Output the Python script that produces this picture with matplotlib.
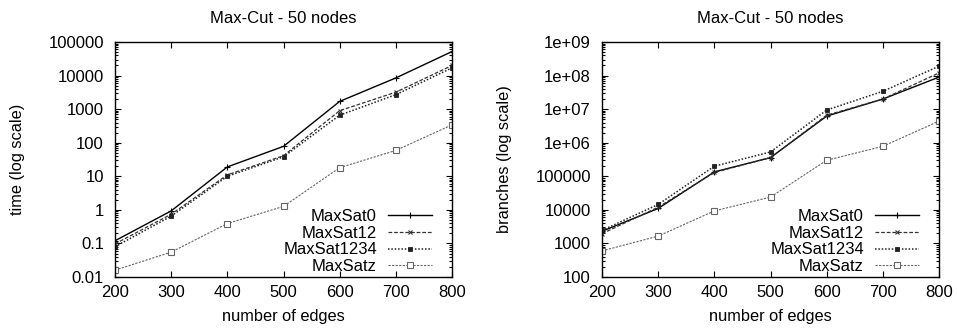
import numpy as np
import matplotlib
matplotlib.use('Agg')
import matplotlib.pyplot as plt
from matplotlib.ticker import FixedLocator, LogLocator, NullFormatter

plt.rcParams['font.family'] = ['Liberation Sans', 'DejaVu Sans']

edges = [200, 300, 400, 500, 600, 700, 800]
series_names = ['MaxSat0', 'MaxSat12', 'MaxSat1234', 'MaxSatz']

# time (log)
time_maxsat0 = [0.12, 0.93, 19, 78, 1700, 8500, 52000]
time_maxsat12 = [0.097, 0.74, 11, 41, 900, 3200, 20000]
time_maxsat1234 = [0.08, 0.65, 10, 38, 660, 2700, 17000]
time_maxsatz = [0.016, 0.055, 0.39, 1.27, 18, 59, 340]

# branches (log)
br_maxsat0 = [2300, 11000, 135000, 360000, 6.2e6, 2.0e7, 9.0e7]
br_maxsat12 = [1950, 12000, 130000, 360000, 6.6e6, 2.0e7, 1.2e8]
br_maxsat1234 = [2450, 14500, 200000, 530000, 9.4e6, 3.4e7, 1.9e8]
br_maxsatz = [600, 1650, 9300, 24000, 300000, 780000, 4.4e6]

time_ticks = [0.01, 0.1, 1, 10, 100, 1000, 10000, 100000]
time_labels = ['0.01', '0.1', '1', '10', '100', '1000', '10000', '100000']
br_ticks = [1e2, 1e3, 1e4, 1e5, 1e6, 1e7, 1e8, 1e9]
br_labels = ['100', '1000', '10000', '100000', '1e+06', '1e+07', '1e+08', '1e+09']

styles = [
    dict(color='black', ls='-', marker='+', ms=5, mew=0.8, lw=1.0),
    dict(color='#333333', ls=(0, (3, 1.5)), marker='x', ms=3.5, mew=0.8, lw=0.9),
    dict(color='#222222', ls=(0, (1, 1.2)), marker='s', ms=2.8, mew=0.6, lw=1.1, mfc='#222222'),
    dict(color='#666666', ls=(0, (2, 1.2)), marker='s', ms=4, mew=0.8, lw=0.8, mfc='white'),
]

fig = plt.figure(figsize=(9.57, 3.31), dpi=100)
W, H = 957, 331
ax1 = fig.add_axes([115 / W, 1 - 277 / H, 337 / W, 235 / H])
ax2 = fig.add_axes([602 / W, 1 - 277 / H, 337 / W, 235 / H])

panels = [
    (ax1, [time_maxsat0, time_maxsat12, time_maxsat1234, time_maxsatz],
     time_ticks, time_labels, 'time (log scale)'),
    (ax2, [br_maxsat0, br_maxsat12, br_maxsat1234, br_maxsatz],
     br_ticks, br_labels, 'branches (log scale)'),
]

fs = 12
for ax, data, yt, yl, ylabel in panels:
    for name, vals, st in zip(series_names, data, styles):
        ax.plot(edges, vals, label=name, **st)
    ax.set_yscale('log')
    ax.set_xlim(200, 800)
    ax.set_ylim(yt[0], yt[-1])
    ax.yaxis.set_major_locator(FixedLocator(yt))
    ax.yaxis.set_minor_locator(LogLocator(base=10, subs=np.arange(2, 10), numticks=20))
    ax.yaxis.set_minor_formatter(NullFormatter())
    ax.set_yticklabels(yl)
    ax.set_xticks(edges)
    ax.tick_params(which='both', direction='in', top=True, right=True, width=0.8)
    ax.tick_params(which='major', length=4, labelsize=fs)
    ax.tick_params(which='minor', length=2)
    ax.tick_params(axis='y', which='major', pad=8)
    ax.tick_params(axis='x', which='major', pad=6)
    for sp in ax.spines.values():
        sp.set_linewidth(1.0)
    ax.set_title('Max-Cut - 50 nodes', fontsize=fs, pad=13.5)
    ax.set_xlabel('number of edges', fontsize=11.8)
    ax.set_ylabel(ylabel, fontsize=11.8)
    ax.xaxis.set_label_coords(0.5, -0.135)
    ax.yaxis.set_label_coords(-0.267, 0.5)
    ax.legend(loc='lower right', frameon=False, markerfirst=False, fontsize=fs,
              handlelength=2.65, handletextpad=0.66, labelspacing=0.11,
              borderpad=0, borderaxespad=0, bbox_to_anchor=(0.941, 0.012))

fig.savefig('out.png', dpi=100)
